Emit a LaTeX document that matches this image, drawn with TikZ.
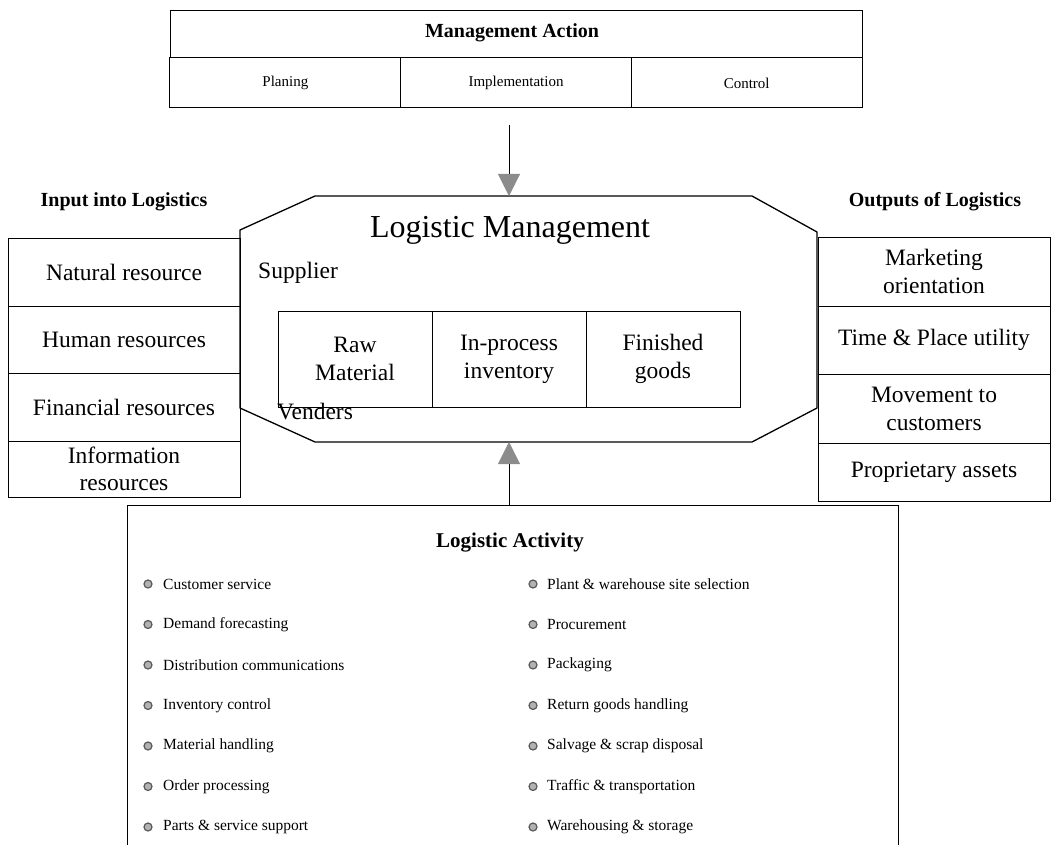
\documentclass[tikz,border=0pt]{standalone}
\usepackage{fontspec}
\setmainfont{Liberation Serif}
\usetikzlibrary{arrows.meta}
\begin{document}
\begin{tikzpicture}[x=1pt,y=-1pt,
  box/.style={draw, line width=1pt, inner sep=0pt, align=center},
  big/.style={box, font=\fontsize{23.5}{28}\selectfont},
  small/.style={box, font=\fontsize{15}{18}\selectfont},
  head/.style={font=\bfseries\fontsize{20}{24}\selectfont, inner sep=0pt},
  plain/.style={font=\fontsize{23.5}{28}\selectfont, inner sep=0pt},
  itm/.style={font=\fontsize{15.5}{18}\selectfont, inner sep=0pt, anchor=west},
  bul/.style={circle, fill=black!30, draw=black!65, line width=1.2pt, minimum size=8pt, inner sep=0pt},
  conn/.style={line width=1pt, -{Triangle[width=22pt,length=22pt,fill=black!45,color=black!45]}}
]
\useasboundingbox (0,0) rectangle (1059,845);

% Management Action
\node[box, minimum width=692pt, minimum height=47pt] (ma) at (516,34.5) {};
\node[head] (matitle) at (512,33) {Management Action};
\node[small, minimum width=230.67pt, minimum height=50pt] (plan) at (285.33,83) {Planing};
\node[small, minimum width=230.67pt, minimum height=50pt] (impl) at (516,83) {Implementation};
\node[small, minimum width=230.67pt, minimum height=50pt] (ctrl) at (746.67,83) {Control};

% Logistic Management octagon
\draw[line width=1.3pt] (240,230) -- (315,196) -- (752,196) -- (817,232) -- (817,408) -- (752,442) -- (315,442) -- (240,408) -- cycle;
\node[font=\fontsize{32}{36}\selectfont, inner sep=0pt] (lm) at (510,230) {Logistic Management};
\node[plain, anchor=west] (sup) at (258,273) {Supplier};
\node[plain, anchor=west] (ven) at (277,412) {Venders};
\node[big, minimum width=154pt, minimum height=96pt] (raw) at (355,359) {Raw\\Material};
\node[big, minimum width=154pt, minimum height=96pt] (inp) at (509,359) {In-process\\inventory};
\node[big, minimum width=154pt, minimum height=96pt] (fin) at (663,359) {Finished\\goods};

% Inputs
\node[head] (intitle) at (124,202) {Input into Logistics};
\node[big, minimum width=232pt, minimum height=68pt] (nat) at (124,272) {Natural resource};
\node[big, minimum width=232pt, minimum height=67pt] (hum) at (124,339.5) {Human resources};
\node[big, minimum width=232pt, minimum height=68pt] (finr) at (124,407) {Financial resources};
\node[big, minimum width=232pt, minimum height=56pt, font=\fontsize{23.5}{27}\selectfont] (info) at (124,469) {Information\\resources};

% Outputs
\node[head] (outtitle) at (935,202) {Outputs of Logistics};
\node[big, minimum width=232pt, minimum height=69pt] (mkt) at (934,271.5) {Marketing\\orientation};
\node[big, minimum width=232pt, minimum height=68pt] (tpu) at (934,340) {Time \& Place utility};
\node[big, minimum width=232pt, minimum height=69pt] (mov) at (934,408.5) {Movement to\\customers};
\node[big, minimum width=232pt, minimum height=58pt] (prop) at (934,472) {Proprietary assets};

% Logistic Activity
\node[box, minimum width=771pt, minimum height=400pt, anchor=north] (act) at (512.5,505) {};
\node[head, font=\bfseries\fontsize{21}{24}\selectfont] (acttitle) at (510,543) {Logistic Activity};
\foreach \i/\l/\r in {1/Customer service/Plant \& warehouse site selection,
                      2/Demand forecasting/Procurement,
                      3/Distribution communications/Packaging,
                      4/Inventory control/Return goods handling,
                      5/Material handling/Salvage \& scrap disposal,
                      6/Order processing/Traffic \& transportation,
                      7/Parts \& service support/Warehousing \& storage}{
  \pgfmathsetmacro{\yy}{584+40.5*(\i-1)}
  \node[bul] (bl\i) at (148,\yy) {};
  \node[itm] (il\i) at (163,\yy) {\l};
  \node[bul] (br\i) at (533,\yy) {};
  \node[itm] (ir\i) at (547,\yy) {\r};
}

% Connectors
\coordinate (dstart) at (509,125);
\coordinate (lmtop) at (509,196);
\coordinate (ustart) at (509,505);
\coordinate (lmbot) at (509,442);
\draw[conn] (dstart) -- (lmtop);
\draw[conn] (ustart) -- (lmbot);
\end{tikzpicture}
\end{document}
